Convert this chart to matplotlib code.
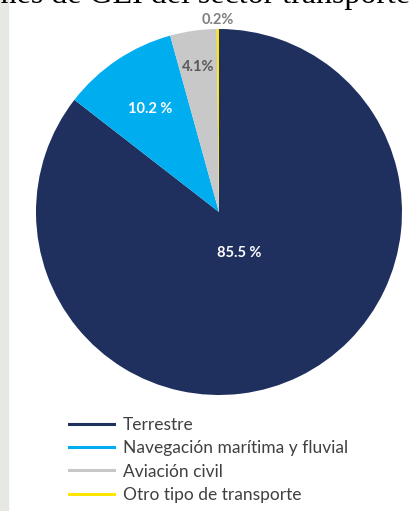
import matplotlib.pyplot as plt
from matplotlib.lines import Line2D
import numpy as np

# Emisiones de GEI del sector transporte (participación %)
categorias = ["Terrestre", "Navegación marítima y fluvial", "Aviación civil", "Otro tipo de transporte"]
valores = [85.5, 10.2, 4.1, 0.2]
etiquetas = ["85.5 %", "10.2 %", "4.1%", "0.2%"]

colores = ["#1f2f5e", "#00adef", "#c8c8c8", "#ffe600"]
color_texto = ["white", "white", "#595959", "#7f7f7f"]
distancias = [0.25, 0.675, 0.80, 1.05]

plt.rcParams['font.family'] = ['Lato', 'DejaVu Sans']

W, H = 419, 511
fig = plt.figure(figsize=(W / 100, H / 100), dpi=100)
fig.patch.set_facecolor("white")

# franja gris del fondo a la izquierda
fig.patches.append(plt.Rectangle((0, 0), 8 / W, 1, transform=fig.transFigure,
                                 color="#e6e8e3", zorder=0))

# título recortado en la parte superior
fig.text(-0.215, 1 - 3 / H, "Emisiones de GEI del sector transporte", fontsize=23,
         family="Liberation Serif", color="black", ha="left", va="baseline")

cx, cy, r = 219, 212, 183
ax = fig.add_axes([(cx - r) / W, (H - cy - r) / H, 2 * r / W, 2 * r / H])

wedges, _ = ax.pie(valores, colors=colores, startangle=90, counterclock=False,
                   radius=1.0, wedgeprops={"linewidth": 0})
ax.set_xlim(-1, 1)
ax.set_ylim(-1, 1)
ax.set_aspect("equal")
ax.axis("off")

for w, txt, col, d in zip(wedges, etiquetas, color_texto, distancias):
    ang = np.deg2rad((w.theta1 + w.theta2) / 2)
    ax.text(d * np.cos(ang), d * np.sin(ang), txt, ha="center", va="center",
            fontsize=10.5, fontweight="bold", color=col, clip_on=False)

handles = [Line2D([0], [0], color=c, lw=2.2) for c in colores]
leg = fig.legend(handles, categorias, loc="upper left",
                 bbox_to_anchor=(62 / W, 1 - 410 / H), frameon=False,
                 fontsize=12.5, handlelength=2.6, handletextpad=0.5,
                 labelspacing=0.42, borderaxespad=0)
for t in leg.get_texts():
    t.set_color("#404040")

fig.savefig("out.png", dpi=100)
